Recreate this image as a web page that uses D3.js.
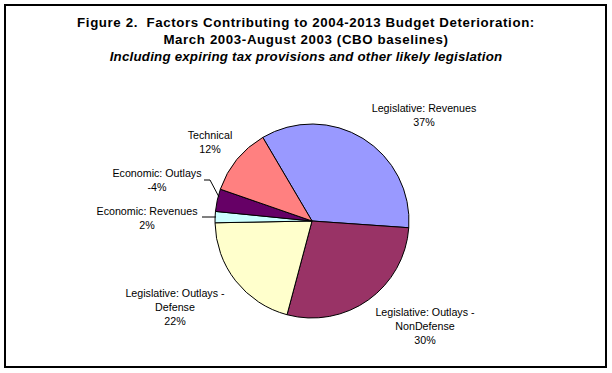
<!DOCTYPE html>
<html>
<head>
<meta charset="utf-8">
<script src="https://cdn.jsdelivr.net/npm/d3@7"></script>
<style>
  body { margin: 0; background: #fff; }
  text { font-family: Arial, "Liberation Sans", sans-serif; fill: #000; white-space: pre; }
</style>
</head>
<body>
<svg width="612" height="373"></svg>
<script>
'use strict';

// chart data
var categories = ['Legislative: Revenues', 'Legislative: Outlays - NonDefense', 'Legislative: Outlays - Defense',
                  'Economic: Revenues', 'Economic: Outlays', 'Technical'];
var values = [37, 30, 22, 2, -4, 12];
var labelLines = [
    ['Legislative: Revenues'],
    ['Legislative: Outlays -', 'NonDefense'],
    ['Legislative: Outlays -', 'Defense'],
    ['Economic: Revenues'],
    ['Economic: Outlays'],
    ['Technical']
];
var colors = ['#9999ff', '#993366', '#ffffcc', '#ccffff', '#660066', '#ff8080'];
var titleLines = ['Figure 2.  Factors Contributing to 2004-2013 Budget Deterioration:',
                  'March 2003-August 2003 (CBO baselines)'];
var subtitle = 'Including expiring tax provisions and other likely legislation';

// label placement (centre x, first-line y)
var labelPos = [[424, 112], [425, 316], [175, 297], [147, 215], [157, 177], [210, 139]];

var svg = d3.select('svg'),
    cx = 312,
    cy = 221,
    radius = 97;

svg.append('rect')
    .attr('x', 5).attr('y', 5)
    .attr('width', 601).attr('height', 362)
    .attr('fill', '#fff')
    .attr('stroke', '#000')
    .attr('stroke-width', 2);

// titles
svg.selectAll('.title')
    .data(titleLines)
    .enter()
    .append('text')
    .attr('class', 'title')
    .attr('x', 306)
    .attr('y', function(d, i) { return 27 + i * 17; })
    .attr('text-anchor', 'middle')
    .style('font-size', '13.3px')
    .style('font-weight', 'bold')
    .style('letter-spacing', '0.6px')
    .text(function(d) { return d; });

svg.append('text')
    .attr('x', 306)
    .attr('y', 61)
    .attr('text-anchor', 'middle')
    .style('font-size', '13.3px')
    .style('font-weight', 'bold')
    .style('font-style', 'italic')
    .style('letter-spacing', '0.22px')
    .text(subtitle);

// pie uses absolute sizes, labels show share of the signed total
var pie = d3.pie()
    .sort(null)
    .value(function(d) { return Math.abs(d); })
    .startAngle(-30.5 * Math.PI / 180)
    .endAngle((360 - 30.5) * Math.PI / 180);

var arc = d3.arc().innerRadius(0).outerRadius(radius);

var canvas = svg.append('g').attr('transform', 'translate(' + cx + ',' + cy + ')');

canvas.selectAll('.slice')
    .data(pie(values))
    .enter()
    .append('path')
    .attr('class', 'slice')
    .attr('d', arc)
    .attr('fill', function(d, i) { return colors[i]; })
    .attr('stroke', '#000')
    .attr('stroke-width', 1);

// leader lines for the two thin slices
var leaders = [
    [[202, 217], [216, 217]],
    [[204, 180], [210, 180], [219, 197]]
];
svg.selectAll('.leader')
    .data(leaders)
    .enter()
    .append('path')
    .attr('class', 'leader')
    .attr('d', d3.line())
    .attr('fill', 'none')
    .attr('stroke', '#000')
    .attr('stroke-width', 1);

// data labels
var labels = svg.selectAll('.label')
    .data(categories)
    .enter()
    .append('text')
    .attr('class', 'label')
    .attr('text-anchor', 'middle')
    .style('font-size', '10.7px');

labels.each(function(d, i) {
    var t = d3.select(this),
        lines = labelLines[i].concat([Math.round(values[i]) + '%']);
    lines.forEach(function(line, j) {
        t.append('tspan')
            .attr('x', labelPos[i][0])
            .attr('y', labelPos[i][1] + j * 14)
            .text(line);
    });
});
</script>
</body>
</html>
